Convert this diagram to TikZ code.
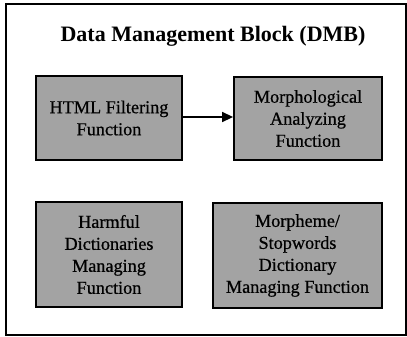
\documentclass[tikz,border=0pt]{standalone}
\usepackage{fontspec}
\setmainfont{Liberation Serif}
\newfontfamily\boxfont[FakeBold=0.6]{Liberation Serif}
\usetikzlibrary{arrows.meta}
\definecolor{halftone}{gray}{0.64}
\tikzset{
  fbox/.style={draw=black, line width=1.8pt, fill=halftone, align=center,
    inner sep=0pt, font=\boxfont\fontsize{18.2}{22}\selectfont},
  flow/.style={-{Triangle[length=11pt,width=10pt]}, line width=1.4pt},
}
\begin{document}
\begin{tikzpicture}[x=1pt,y=-1pt]
\useasboundingbox (0,0) rectangle (407,337);
\draw[line width=1.5pt] (6,4) rectangle (406,335);
\node[font=\bfseries\fontsize{22}{24}\selectfont] (title) at (213,36) {Data Management Block (DMB)};
\node[fbox, minimum width=146pt, minimum height=84pt] (html) at (109,118) {HTML Filtering\\Function};
\node[fbox, minimum width=148pt, minimum height=83pt] (morph) at (308,118.5) {Morphological\\Analyzing\\Function};
\node[fbox, minimum width=146pt, minimum height=105pt] (harm) at (109,254.5) {Harmful\\Dictionaries\\Managing\\Function};
\node[fbox, minimum width=169pt, minimum height=105pt] (stop) at (297.5,255.5) {Morpheme/\\Stopwords\\Dictionary\\Managing Function};
\draw[flow] (html.east |- 0,117) -- (morph.west |- 0,117);
\end{tikzpicture}
\end{document}
